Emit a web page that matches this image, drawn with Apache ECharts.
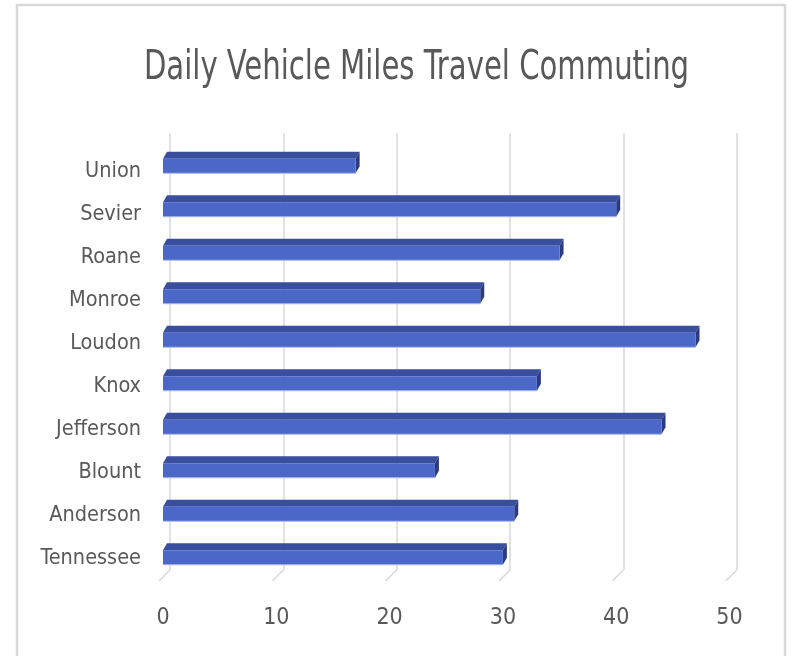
<!DOCTYPE html>
<html>
<head>
<meta charset="utf-8">
<script src="https://cdn.jsdelivr.net/npm/echarts@6/dist/echarts.min.js"></script>
<style>
html,body{margin:0;padding:0;background:#fff;}
#chart{width:794px;height:656px;}
</style>
</head>
<body>
<div id="chart"></div>
<script>
const categories = ['Tennessee','Anderson','Blount','Jefferson','Knox','Loudon','Monroe','Roane','Sevier','Union'];
const values = [30, 31, 24, 44, 33, 47, 28, 35, 40, 17];
const xTicks = [0, 10, 20, 30, 40, 50];
const titleText = 'Daily Vehicle Miles Travel Commuting';

const FONT = "'Liberation Sans Narrow', 'DejaVu Sans Condensed', 'Liberation Sans', sans-serif";
const chart = echarts.init(document.getElementById('chart'), null, {renderer: 'canvas'});

function renderBar(params, api) {
  const v = api.value(0), c = api.value(1);
  const p0 = api.coord([0, c]);
  const p1 = api.coord([v, c]);
  const band = api.size([0, 1])[1];
  const th = band * 0.494;
  const dy = th * 0.33;
  const dx = 4;
  const topY = p0[1] - th / 2;
  const fTop = topY + dy;
  const fBot = topY + th;
  const x0 = p0[0], x1 = p1[0];
  return {
    type: 'group',
    children: [
      {type: 'polygon', shape: {points: [[x0, fTop], [x0 + dx, topY], [x1 + dx, topY], [x1, fTop]]},
       style: {fill: '#3A4E9E'}},
      {type: 'polygon', shape: {points: [[x1, fTop], [x1 + dx, topY], [x1 + dx, fBot - dy], [x1, fBot]]},
       style: {fill: '#2C3B80'}},
      {type: 'rect', shape: {x: x0, y: fTop, width: x1 - x0, height: fBot - fTop},
       style: {fill: '#4B67C8'}},
      {type: 'line', shape: {x1: x0, y1: fBot, x2: x1, y2: fBot},
       style: {stroke: '#A9B8EA', lineWidth: 1}}
    ]
  };
}

function renderFloor(params, api) {
  const p = api.coord([api.value(0), 0]);
  return {type: 'line', shape: {x1: p[0], y1: p[1], x2: p[0] - 11, y2: p[1] + 11},
          style: {stroke: '#D9D9D9', lineWidth: 1.5}};
}

const option = {
  backgroundColor: '#ffffff',
  animation: false,
  graphic: [
    {
      type: 'rect', z: 100, silent: true,
      shape: {x: 17, y: 5, width: 768, height: 660},
      style: {fill: 'none', stroke: '#D9D9D9', lineWidth: 2.5}
    },
    {
      type: 'text', z: 100, silent: true,
      x: 416.5, y: 68, scaleX: 0.79, scaleY: 1,
      style: {text: titleText, font: 'normal 41px ' + FONT, fill: '#595959',
              align: 'center', verticalAlign: 'middle'}
    }
  ],
  grid: [
    {left: 170, top: 133, width: 566.7, height: 437},
    {left: 163, top: 140.75, width: 566.5, height: 435},
    {left: 163, top: 149.5, width: 566.5, height: 430.8}
  ],
  xAxis: [
    {gridIndex: 0, type: 'value', min: 0, max: 50, interval: 10,
     axisLine: {show: false}, axisTick: {show: false}, axisLabel: {show: false},
     splitLine: {show: true, lineStyle: {color: '#D9D9D9', width: 1.5}}},
    {gridIndex: 1, type: 'value', min: 0, max: 50, interval: 10,
     axisLine: {show: false}, axisTick: {show: false}, splitLine: {show: false},
     axisLabel: {show: true, margin: 31, fontFamily: FONT, fontSize: 23, color: '#595959',
                 formatter: function (v) { return xTicks.indexOf(v) >= 0 ? String(v) : ''; }}},
    {gridIndex: 2, type: 'value', min: 0, max: 50, show: false}
  ],
  yAxis: [
    {gridIndex: 0, type: 'value', min: 0, max: 1, show: false},
    {gridIndex: 1, type: 'category', data: categories, show: false},
    {gridIndex: 2, type: 'category', data: categories,
     axisLine: {show: false}, axisTick: {show: false}, splitLine: {show: false},
     axisLabel: {show: true, margin: 22, fontFamily: FONT, fontSize: 21.5, color: '#595959'}}
  ],
  series: [
    {type: 'custom', xAxisIndex: 0, yAxisIndex: 0, renderItem: renderFloor,
     data: xTicks.map(t => [t, 0]), silent: true, z: 1},
    {type: 'custom', xAxisIndex: 1, yAxisIndex: 1, renderItem: renderBar,
     encode: {x: 0, y: 1}, data: values.map((v, i) => [v, i]), z: 5}
  ]
};
chart.setOption(option);
</script>
</body>
</html>
